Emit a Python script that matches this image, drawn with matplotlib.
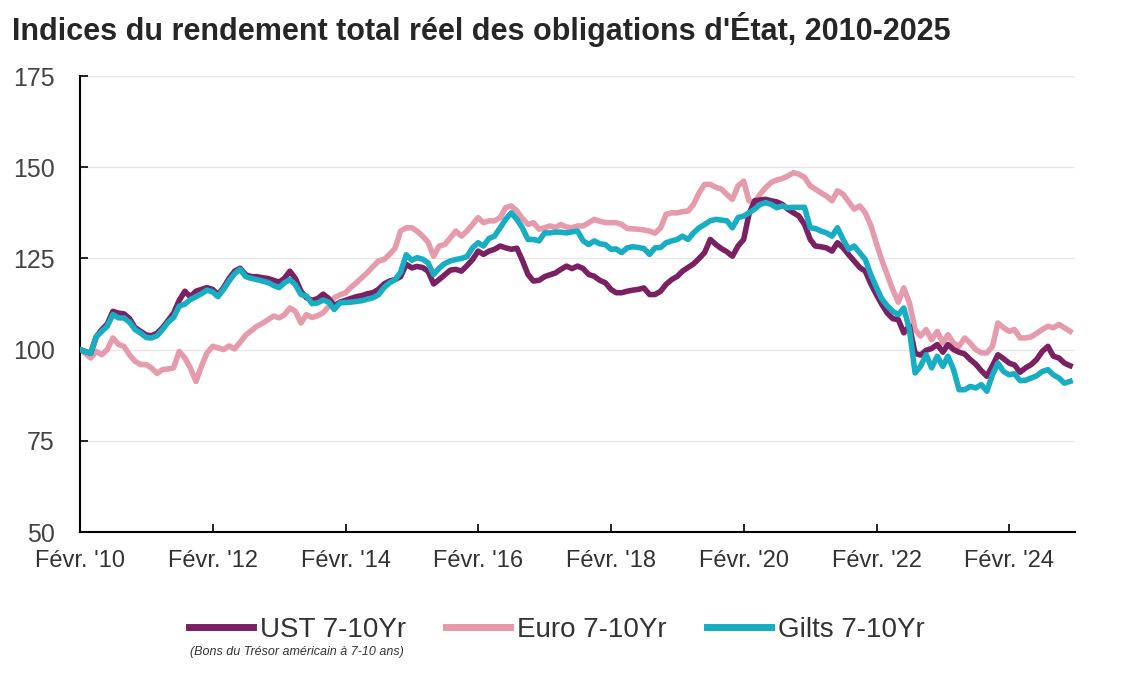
import numpy as np
import pandas as pd
import matplotlib
matplotlib.use("Agg")
import matplotlib.pyplot as plt

# monthly index values, Feb 2010 -> Jan 2025
ust = [100, 99.5, 99, 103.5, 105.5, 107, 110.5, 110, 109.8, 108.5,
       106, 105, 104, 103.8, 104.5, 106, 108, 110, 113.5, 116,
       114.5, 116, 116.5, 117, 116.5, 115, 117, 119.5, 121.5, 122.3,
       120.5, 120, 120, 119.7, 119.5, 119, 118.5, 119.5, 121.5, 119.5,
       116, 114.2, 113.5, 114, 115.2, 114, 112, 113, 113.5, 114,
       114.5, 114.8, 115.3, 115.6, 116.5, 118, 118.8, 119.2, 120, 123.4,
       122.4, 122.8, 122.5, 121.5, 118, 119.2, 120.5, 121.8, 122, 121.5,
       123, 124.7, 127, 126.1, 127, 127.5, 128.4, 127.9, 127.5, 127.8,
       124.5, 120.6, 118.8, 119, 120, 120.5, 121, 122, 122.9, 122.2,
       122.9, 122.2, 120.6, 120.1, 119, 118.3, 116.5, 115.6, 115.6, 116,
       116.3, 116.5, 116.9, 115.1, 115.1, 116, 117.9, 119.2, 120.1, 121.5,
       122.5, 123.5, 125, 126.6, 130.2, 128.8, 127.7, 126.8, 125.6, 128.4,
       130.2, 137.1, 140.8, 141, 141.2, 140.8, 140.5, 139.8, 138.5, 137.5,
       136.6, 134.3, 130.2, 128.4, 128.2, 127.9, 127, 129.3, 127.9, 126,
       124.3, 122.5, 121.5, 118, 115, 112.5, 110, 108.5, 108.2, 104.6,
       106.5, 99, 98.5, 99.8, 100.3, 101.4, 99.3, 101.4, 100, 99.3,
       98.8, 97.3, 96, 94.2, 92.7, 95.6, 98.6, 97.5, 96.3, 95.8,
       93.8, 95, 95.9, 97.3, 99.5, 100.9, 98.2, 97.7, 96.3, 95.6]

euro = [100, 99, 97.7, 99.5, 98.6, 100, 103.2, 101.4, 100.9, 98.5,
        96.8, 95.9, 95.9, 95, 93.5, 94.5, 94.7, 95, 99.5, 97.7,
        95, 91.3, 95.4, 99.1, 100.9, 100.5, 100, 101, 100.2, 102,
        104, 105.2, 106.4, 107.2, 108.2, 109.2, 108.7, 109.5, 111.4, 110.5,
        107.3, 109.6, 108.8, 109.3, 110.1, 111.9, 114.2, 115, 115.6, 117,
        118.3, 119.7, 121.1, 122.7, 124.3, 124.7, 126.1, 127.8, 132.5, 133.4,
        133.4, 132.5, 131.1, 129.5, 125.6, 128.4, 128.8, 130.7, 132.5, 131.1,
        132.5, 134.3, 136.2, 134.8, 135.3, 135.3, 136.2, 138.9, 139.4, 138,
        136, 134.3, 134.8, 133, 133.4, 133.9, 133.5, 134.3, 133.6, 133.4,
        133.9, 133.9, 134.8, 135.7, 135.2, 134.8, 134.8, 134.8, 134.3, 133.2,
        133.1, 133, 132.8, 132.5, 131.9, 133.4, 137.1, 137.5, 137.5, 137.8,
        138, 139.8, 143, 145.3, 145.3, 144.5, 144, 142.5, 141.2, 144.9,
        146.2, 140.8, 140.3, 142.6, 144.4, 145.8, 146.5, 146.9, 147.6, 148.5,
        148.1, 147.2, 144.9, 144, 143, 142.1, 140.8, 143.5, 142.6, 140.5,
        138.5, 139.4, 137.5, 134, 129, 124.7, 120.5, 116.5, 113, 116.9,
        112.8, 105.5, 103.7, 105.5, 102.7, 105, 101.8, 104.1, 101.8, 100.9,
        103.2, 101.8, 100, 99.1, 99.1, 100.9, 107.3, 106, 105, 105.5,
        103.2, 103.2, 103.5, 104.5, 105.5, 106.4, 106, 106.9, 106, 105]

gilts = [100, 99.5, 99, 103.5, 105, 106.4, 109.6, 108.7, 108.7, 107.5,
         105.5, 104.5, 103.3, 103.2, 103.8, 105.5, 107.5, 108.8, 111.9, 112.5,
         113.7, 114.5, 115.3, 116.3, 115.8, 114.5, 116.5, 118.8, 120.8, 122,
         120, 119.5, 119.2, 118.8, 118.4, 117.6, 117, 118.3, 119.2, 117.8,
         115.1, 114.7, 112.6, 112.8, 113.6, 113, 111, 112.8, 112.9, 113,
         113.2, 113.4, 113.8, 114.2, 115, 117, 118.3, 119.2, 121.2, 126,
         124.5, 125.2, 124.8, 123.8, 120.6, 122.3, 123.6, 124.3, 124.7, 125,
         125.5, 127.9, 129.3, 128.4, 130.5, 131.1, 133.4, 135.7, 137.5, 135.7,
         133.4, 130.2, 130.2, 129.8, 132, 132, 132.2, 132.2, 132, 132.3,
         132.5, 129.8, 128.8, 129.8, 129, 128.8, 127.5, 127.6, 126.6, 127.9,
         128.2, 128, 127.7, 126.1, 127.9, 128, 129.3, 129.8, 130.2, 131.1,
         130.2, 132, 133.4, 134.3, 135.3, 135.7, 135.5, 135.3, 133.4, 136.2,
         136.6, 137.5, 138.5, 139.8, 140.3, 139.8, 138.9, 139.4, 138.9, 139,
         139, 139, 133.4, 133.2, 132.5, 132, 131.1, 133.4, 130.2, 127.5,
         128.4, 126.5, 124.7, 120.5, 117, 114, 112, 110.5, 109.6, 111.4,
         105.5, 93.6, 95.4, 98.6, 95, 98.2, 95.4, 98.2, 94.5, 89,
         89, 89.9, 89.5, 90.4, 88.6, 93.1, 96.3, 94, 93.1, 93.4,
         91.5, 91.6, 92.2, 92.8, 94, 94.5, 93.1, 92.2, 90.8, 91.3]

labels = ["UST 7-10Yr", "Euro 7-10Yr", "Gilts 7-10Yr"]
colors = ["#7B2063", "#E59BAC", "#17AEC4"]
tick_years = [2010, 2012, 2014, 2016, 2018, 2020, 2022, 2024]

dates = pd.date_range("2010-02-01", periods=len(ust), freq="MS")

plt.rcParams['font.family'] = ['Liberation Sans', 'DejaVu Sans']

fig = plt.figure(figsize=(11.22, 6.78), dpi=100)
ax = fig.add_axes([0.0713, 0.2153, 0.8868, 0.6726])

# euro underneath, then UST, gilts on top
ax.plot(dates, euro, color=colors[1], lw=4, label=labels[1], zorder=2)
ax.plot(dates, ust, color=colors[0], lw=4, label=labels[0], zorder=3)
ax.plot(dates, gilts, color=colors[2], lw=4, label=labels[2], zorder=4)

ax.set_ylim(50, 175)
ax.set_yticks([50, 75, 100, 125, 150, 175])
ax.set_xlim(dates[0], pd.Timestamp("2025-01-28"))
ax.set_xticks([pd.Timestamp(y, 2, 1) for y in tick_years])
ax.set_xticklabels(["Févr. '%02d" % (y % 100) for y in tick_years])

ax.grid(axis='y', color='#e6e6e6', lw=1)
ax.set_axisbelow(True)
for s in ['top', 'right']:
    ax.spines[s].set_visible(False)
for s in ['left', 'bottom']:
    ax.spines[s].set_color('black')
    ax.spines[s].set_linewidth(1.5)
ax.tick_params(axis='x', direction='in', length=6, width=1.2, pad=13,
               labelsize=17, colors='black', labelcolor='#333333')
ax.tick_params(axis='y', direction='in', length=6, width=1.2, pad=18,
               labelsize=18, colors='black', labelcolor='#444444')

fig.text(0.0107, 0.956, "Indices du rendement total réel des obligations d'État, 2010-2025",
         fontsize=22, fontweight='bold', color='#262626', va='center', ha='left')

# legend in UST, Euro, Gilts order
h, l = ax.get_legend_handles_labels()
order = [1, 0, 2]
leg = fig.legend([h[i] for i in order], [l[i] for i in order], loc='center',
                 bbox_to_anchor=(0.496, 0.071), ncol=3, frameon=False, fontsize=20,
                 handlelength=2.3, handletextpad=0.25, columnspacing=1.45)
for line in leg.get_lines():
    line.set_linewidth(5)
for t in leg.get_texts():
    t.set_color('#333333')
fig.text(0.1693, 0.038, "(Bons du Trésor américain à 7-10 ans)", fontsize=9,
         style='italic', color='#333333', va='center', ha='left')

fig.savefig("out.png", dpi=100)
